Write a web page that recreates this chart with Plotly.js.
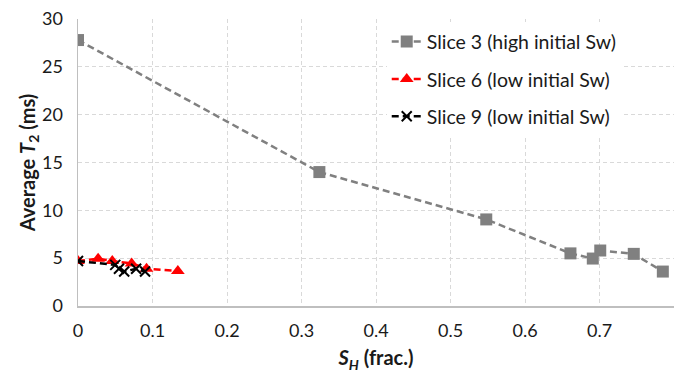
<!DOCTYPE html>
<html>
<head>
<meta charset="utf-8">
<script src="https://cdn.plot.ly/plotly-3.0.1.min.js"></script>
<style>html,body{margin:0;padding:0;background:#fff;}#chart{width:686px;height:379px;}</style>
</head>
<body>
<div id="chart"></div>
<script>
const slice3X = [0, 0.324, 0.548, 0.661, 0.691, 0.701, 0.746, 0.785];
const slice3Y = [27.8, 14.0, 9.05, 5.5, 4.96, 5.8, 5.45, 3.6];
const slice6X = [0, 0.027, 0.046, 0.072, 0.092, 0.134];
const slice6Y = [4.7, 4.95, 4.7, 4.45, 3.9, 3.65];
const slice9X = [0, 0.05, 0.055, 0.062, 0.078, 0.09];
const slice9Y = [4.7, 4.3, 3.9, 3.6, 3.9, 3.6];
const names = ["Slice 3 (high initial Sw)", "Slice 6 (low initial Sw)", "Slice 9 (low initial Sw)"];
const xTicks = [0, 0.1, 0.2, 0.3, 0.4, 0.5, 0.6, 0.7, 0.8];
const xTickText = ["0", "0.1", "0.2", "0.3", "0.4", "0.5", "0.6", "0.7", "0.8"];
const yTicks = [0, 5, 10, 15, 20, 25, 30];

const font = "Lato, 'Open Sans', sans-serif";
const txt = "#1a1a1a";
const traces = [
  {x: slice3X, y: slice3Y, name: names[0], mode: "lines+markers", legendgroup: "a",
   line: {color: "#808080", width: 2.5, dash: "7px,4px"},
   marker: {symbol: "square", size: 12, color: "#808080"}},
  {x: slice6X, y: slice6Y, name: names[1], mode: "lines+markers", legendgroup: "b",
   line: {color: "#ff0000", width: 2.5, dash: "7px,4px"},
   marker: {symbol: "triangle-up", size: 12, color: "#ff0000"}},
  {x: slice9X, y: slice9Y, name: names[2], mode: "lines+markers", legendgroup: "c",
   line: {color: "#000000", width: 2.5, dash: "7px,4px"},
   marker: {symbol: "x-thin", size: 10, color: "#000000", line: {width: 2, color: "#000000"}}}
];
const layout = {
  width: 686, height: 379,
  margin: {l: 78, r: 12, t: 19, b: 73},
  paper_bgcolor: "#fff", plot_bgcolor: "#fff",
  font: {family: font, size: 18, color: txt},
  showlegend: true,
  legend: {x: 0.518, y: 0.988, xanchor: "left", yanchor: "top", bgcolor: "#fff",
           font: {family: font, size: 19.5, color: txt}, traceorder: "grouped", tracegroupgap: 9},
  xaxis: {range: [0, 0.8], tickvals: xTicks, ticktext: xTickText, showgrid: true,
          gridcolor: "#d9d9d9", griddash: "4px,3px", gridwidth: 1,
          showline: true, linecolor: "#bfbfbf", linewidth: 1.5, zeroline: false, ticks: "",
          ticklabelstandoff: 8,
          tickfont: {family: font, size: 18, color: txt},
          title: {text: "<b><i>S</i><sub><i>H</i></sub> (frac.)</b>", font: {family: font, size: 20, color: txt}, standoff: 11}},
  yaxis: {range: [0, 30], tickvals: yTicks, showgrid: true,
          gridcolor: "#d9d9d9", griddash: "4px,3px", gridwidth: 1,
          showline: true, linecolor: "#bfbfbf", linewidth: 1.5, zeroline: false, ticks: "",
          ticklabelstandoff: 10,
          tickfont: {family: font, size: 18, color: txt},
          title: {text: "<b>Average <i>T</i><sub>2</sub> (ms)</b>", font: {family: font, size: 20, color: txt}, standoff: 0}}
};
Plotly.newPlot("chart", traces, layout, {displayModeBar: false, staticPlot: true});
</script>
</body>
</html>
